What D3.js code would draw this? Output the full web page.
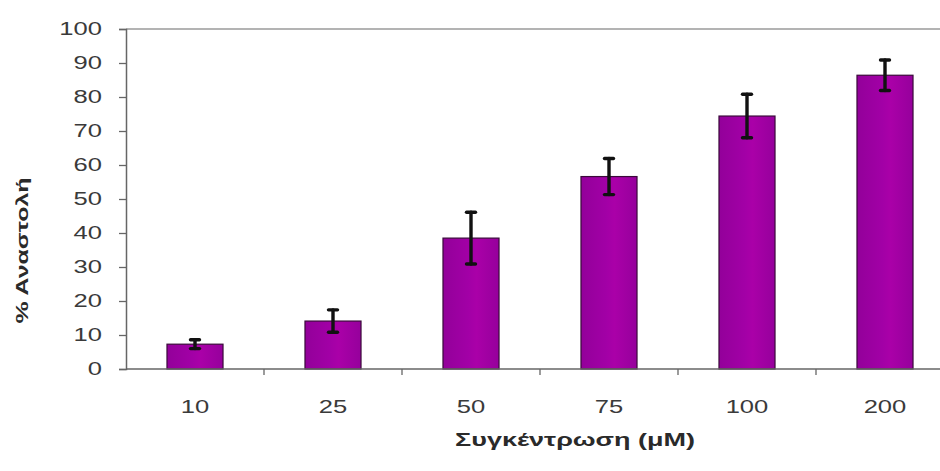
<!DOCTYPE html>
<html>
<head>
<meta charset="utf-8">
<script src="https://cdn.jsdelivr.net/npm/d3@7"></script>
<style>
  html, body { margin: 0; padding: 0; background: #fff; }
  svg { display: block; }
  text { font-family: "Liberation Sans", Arial, sans-serif; }
</style>
</head>
<body>
<svg id="chart" width="940" height="471"></svg>
<script>
const categories = ["10", "25", "50", "75", "100", "200"];
const values = [7.3, 14.1, 38.5, 56.6, 74.4, 86.4];
const errors = [1.3, 3.3, 7.6, 5.3, 6.4, 4.5];
const yTicks = [0, 10, 20, 30, 40, 50, 60, 70, 80, 90, 100];
const yLabel = "% Αναστολή";
const xLabel = "Συγκέντρωση (μΜ)";

const svg = d3.select("#chart");
const mLeft = 126, mRight = 954, mTop = 29, mBottom = 369;

const x = d3.scaleBand().domain(categories).range([mLeft, mRight])
  .paddingInner(0.594).paddingOuter(0.297);
const y = d3.scaleLinear().domain([0, 100]).range([mBottom, mTop]);

function stretch(sel, k) {
  sel.each(function () {
    const w = this.getComputedTextLength();
    d3.select(this).attr("textLength", w * k).attr("lengthAdjust", "spacingAndGlyphs");
  });
}

// gradient for bars
const defs = svg.append("defs");
const grad = defs.append("linearGradient").attr("id", "barGrad")
  .attr("x1", "0%").attr("x2", "100%").attr("y1", "0%").attr("y2", "0%");
grad.append("stop").attr("offset", "0%").attr("stop-color", "#93009a");
grad.append("stop").attr("offset", "45%").attr("stop-color", "#a200a6");
grad.append("stop").attr("offset", "60%").attr("stop-color", "#aa00a8");
grad.append("stop").attr("offset", "100%").attr("stop-color", "#96009c");

// top frame line
svg.append("line")
  .attr("x1", mLeft).attr("x2", mRight).attr("y1", y(100)).attr("y2", y(100))
  .attr("stroke", "#9a9a9a").attr("stroke-width", 1.3);

// bars
svg.append("g").selectAll("rect").data(categories).join("rect")
  .attr("x", d => x(d))
  .attr("y", (d, i) => y(values[i]))
  .attr("width", x.bandwidth())
  .attr("height", (d, i) => y(0) - y(values[i]))
  .attr("fill", "url(#barGrad)")
  .attr("stroke", "#3a0a3a").attr("stroke-width", 1.2);

// error bars
const eg = svg.append("g").attr("stroke", "#111").attr("stroke-linecap", "round");
categories.forEach((c, i) => {
  const cx = x(c) + x.bandwidth() / 2;
  const yt = y(values[i] + errors[i]), yb = y(values[i] - errors[i]);
  eg.append("line").attr("x1", cx).attr("x2", cx).attr("y1", yt).attr("y2", yb).attr("stroke-width", 3.4);
  eg.append("line").attr("x1", cx - 4.5).attr("x2", cx + 4.5).attr("y1", yt).attr("y2", yt).attr("stroke-width", 3.4);
  eg.append("line").attr("x1", cx - 4.5).attr("x2", cx + 4.5).attr("y1", yb).attr("y2", yb).attr("stroke-width", 3.4);
});

// y axis
const yAxis = d3.axisLeft(y).tickValues(yTicks).tickSize(7).tickPadding(17).tickFormat(d3.format("d"));
const yg = svg.append("g").attr("transform", `translate(${mLeft},0)`).call(yAxis);
yg.select(".domain").attr("stroke", "#666").attr("stroke-width", 1.5);
yg.selectAll(".tick line").attr("stroke", "#666").attr("stroke-width", 1.3);
yg.selectAll(".tick text").attr("font-size", 18).attr("fill", "#3a3a3a")
  .attr("font-family", "Liberation Sans, Arial, sans-serif");
yg.selectAll(".tick text").call(stretch, 1.42);

// x axis
const xg = svg.append("g").attr("transform", `translate(0,${mBottom})`);
xg.append("line").attr("x1", mLeft).attr("x2", mRight).attr("stroke", "#666").attr("stroke-width", 1.5);
const bounds = d3.range(1, categories.length).map(i => mLeft + i * x.step());
xg.selectAll(".bt").data(bounds).join("line").attr("class", "bt")
  .attr("x1", d => d).attr("x2", d => d).attr("y1", 0).attr("y2", 6)
  .attr("stroke", "#666").attr("stroke-width", 1.3);
xg.selectAll(".xl").data(categories).join("text").attr("class", "xl")
  .attr("x", d => x(d) + x.bandwidth() / 2)
  .attr("y", 44)
  .attr("text-anchor", "middle")
  .attr("font-size", 18).attr("fill", "#3a3a3a")
  .text(d => d)
  .call(stretch, 1.42);

// axis titles
svg.append("text")
  .attr("transform", `translate(28,${(178 + 323) / 2}) rotate(-90)`)
  .attr("text-anchor", "middle")
  .attr("font-size", 17).attr("font-weight", "bold").attr("fill", "#2a2a2a")
  .text(yLabel)
  .attr("textLength", 146).attr("lengthAdjust", "spacingAndGlyphs");

svg.append("text")
  .attr("x", 575).attr("y", 446)
  .attr("text-anchor", "middle")
  .attr("font-size", 18).attr("font-weight", "bold").attr("fill", "#2a2a2a")
  .text(xLabel)
  .attr("textLength", 240).attr("lengthAdjust", "spacingAndGlyphs");
</script>
</body>
</html>
